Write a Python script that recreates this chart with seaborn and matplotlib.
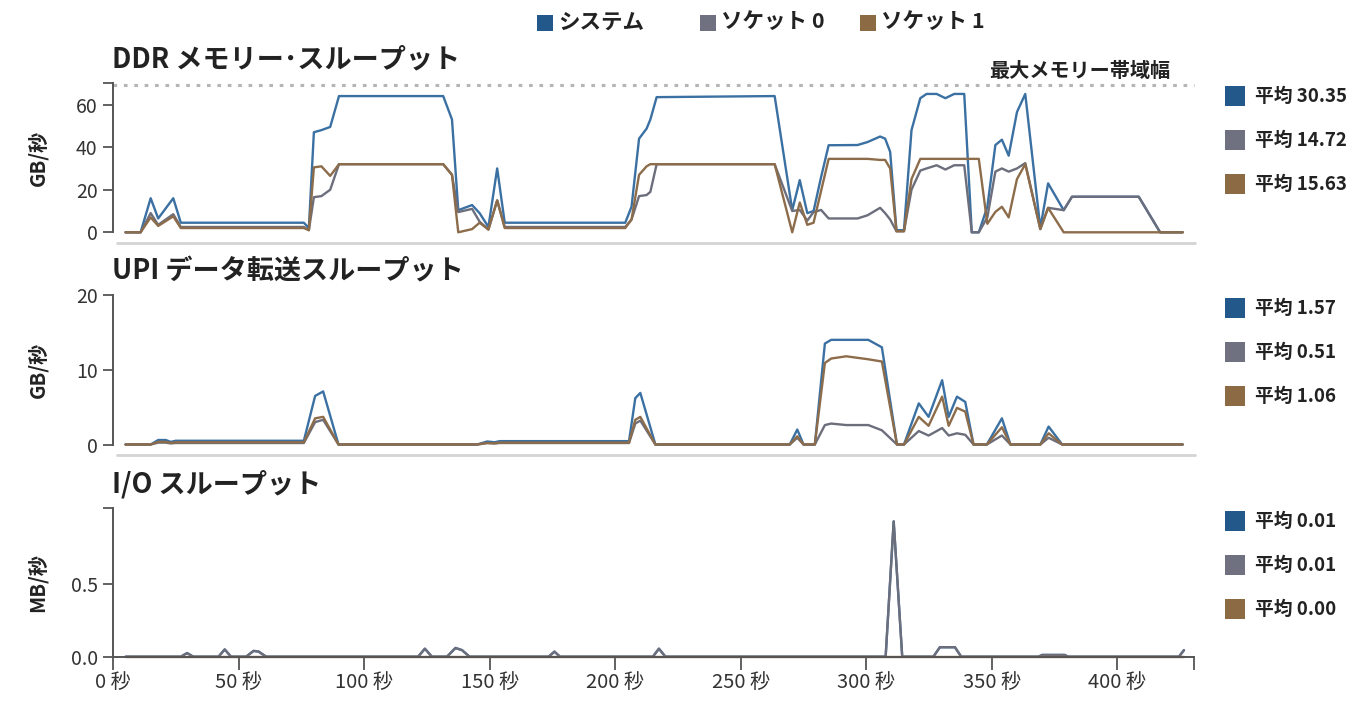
import matplotlib
matplotlib.use("Agg")
import matplotlib.pyplot as plt
from matplotlib.lines import Line2D
from matplotlib.patches import Rectangle
import pandas as pd
import seaborn as sns

# ---------------------------------------------------------------- data
series_names = ["システム", "ソケット 0", "ソケット 1"]

# DDR memory throughput (GB/s)
ddr_t = [5, 11, 15, 18, 24, 27, 76, 78, 80, 83, 86.5, 90, 131.5, 135, 137.5,
         143, 146, 149.5, 153, 156, 204, 206.5, 209.5, 212.5, 214, 216.5,
         263.5, 270.5, 273.5, 276.5, 279, 282, 285, 296.5, 300.5, 305.5,
         307.5, 309.5, 312, 315, 318, 321.5, 324, 328, 331.5, 335, 339, 342,
         344.8, 348.2, 351.4, 354, 356.7, 360, 363.3, 369.3, 372.4, 378.6,
         381.9, 408.5, 417, 426]
ddr_system = [0, 0, 16, 6.5, 16, 4.5, 4.5, 2, 47, 48, 49.5, 64, 64, 53, 10.4,
              12.8, 9, 2.5, 30, 4.5, 4.5, 12, 44, 48.7, 53, 63.5,
              64, 10.4, 24.5, 9, 10, 26, 40.9, 41, 42.4, 45,
              44, 37.8, 1, 1, 48, 63, 65, 65, 63, 65, 65, 0,
              0, 12, 41, 43.5, 36, 56.5, 65, 2, 23, 10.4,
              16.7, 16.7, 0, 0]
ddr_socket0 = [0, 0, 9, 3.5, 8.5, 2.5, 2.5, 1, 16.5, 17, 20, 32, 32, 27, 9.5,
               11, 5, 1.3, 15, 2.5, 2.5, 6, 17, 17.5, 19, 32,
               32, 10, 10.5, 5.5, 9.5, 10.5, 6.5, 6.5, 8, 11.5,
               9, 6, 0.5, 0.5, 20, 29, 30, 31.5, 29.5, 31.5, 31.5, 0,
               0, 7, 28.5, 30, 28.5, 30, 32.5, 1.5, 11.5, 10.4,
               16.7, 16.7, 0, 0]
ddr_socket1 = [0, 0, 7, 3, 7.5, 2, 2, 1, 30.5, 31, 26.5, 32, 32, 27, 0,
               1.5, 4.5, 1.3, 15, 2, 2, 6, 27, 31, 32, 32,
               32, 0, 14, 3.5, 4.5, 19.5, 34.5, 34.5, 34.5, 34,
               34, 30, 0.5, 0.5, 25, 34.5, 34.5, 34.5, 34.5, 34.5, 34.5, 34.5,
               34.5, 4, 9.6, 12, 7, 25, 32, 1.5, 11.5, 0,
               0, 0, 0, 0]
ddr_means = [30.35, 14.72, 15.63]
ddr_max_bandwidth = 69.3

# UPI data transfer throughput (GB/s)
upi_t = [5, 15, 18, 21, 23, 25, 76, 80.5, 83.7, 89.8, 145, 149, 152, 154,
         205.5, 208, 210, 216, 269.5, 272.5, 275, 279.5, 283.5, 286, 292,
         300.8, 306.2, 312.2, 315, 320.9, 324.8, 330.2, 332.8, 336.1, 339.4,
         342.7, 348, 354, 357.4, 369.3, 372.6, 378, 426]
upi_system = [0, 0, 0.6, 0.6, 0.35, 0.5, 0.5, 6.5, 7.1, 0, 0, 0.4, 0.3, 0.45,
              0.45, 6.2, 6.9, 0, 0, 2.0, 0, 0, 13.5, 14, 14,
              14, 13, 0, 0, 5.5, 3.7, 8.6, 3.7, 6.4, 5.7,
              0, 0, 3.5, 0, 0, 2.4, 0, 0]
upi_socket0 = [0, 0, 0.25, 0.25, 0.15, 0.2, 0.2, 3.0, 3.3, 0, 0, 0.2, 0.15, 0.2,
               0.2, 2.8, 3.2, 0, 0, 0.9, 0, 0, 2.6, 2.8, 2.6,
               2.6, 1.9, 0, 0, 1.8, 1.2, 2.2, 1.2, 1.5, 1.3,
               0, 0, 1.2, 0, 0, 0.9, 0, 0]
upi_socket1 = [0, 0, 0.35, 0.35, 0.2, 0.3, 0.3, 3.5, 3.7, 0, 0, 0.2, 0.15, 0.25,
               0.25, 3.3, 3.7, 0, 0, 1.1, 0, 0, 10.9, 11.5, 11.8,
               11.4, 11.1, 0, 0, 3.7, 2.5, 6.4, 2.5, 4.9, 4.4,
               0, 0, 2.3, 0, 0, 1.5, 0, 0]
upi_means = [1.57, 0.51, 1.06]

# I/O throughput (MB/s)
io_t = [5, 27, 29.5, 32, 42, 44.5, 47, 53, 56, 58, 61, 121.5, 124.2, 127,
        133, 136.4, 139, 142, 173.5, 175.8, 178, 215, 217.4, 220, 307.7,
        310.9, 314.3, 326.7, 329.3, 335.3, 337.8, 368.5, 370, 379, 380.4,
        424.5, 426.5]
io_system = [0, 0, 0.025, 0, 0, 0.05, 0, 0, 0.04, 0.035, 0, 0, 0.055, 0,
             0, 0.06, 0.045, 0, 0, 0.035, 0, 0, 0.055, 0, 0,
             0.93, 0, 0, 0.065, 0.065, 0, 0, 0.012, 0.012, 0,
             0, 0.045]
io_socket0 = [0, 0, 0.025, 0, 0, 0.05, 0, 0, 0.04, 0.035, 0, 0, 0.055, 0,
              0, 0.06, 0.045, 0, 0, 0.035, 0, 0, 0.055, 0, 0,
              0.93, 0, 0, 0.065, 0.065, 0, 0, 0.012, 0.012, 0,
              0, 0.045]
io_socket1 = [0] * len(io_t)
io_means = [0.01, 0.01, 0.00]

x_ticks = [0, 50, 100, 150, 200, 250, 300, 350, 400]
x_end = 430.5

# ---------------------------------------------------------------- style
sns.set_theme(style="white")
plt.rcParams["font.family"] = ["Noto Sans CJK JP", "DejaVu Sans"]

line_colors = {"システム": "#3b70a2", "ソケット 0": "#6c6e7c", "ソケット 1": "#8c6c4a"}
swatch_colors = ["#22598a", "#6f7080", "#8b6a44"]
axis_color = "#555555"
text_color = "#222222"

W, H = 1367, 702
fig = plt.figure(figsize=(W / 100, H / 100), dpi=100)


def fx(px):
    return px / W


def fy(py):
    return 1 - py / H


def long_frame(t, columns):
    parts = []
    for name, vals in zip(series_names, columns):
        parts.append(pd.DataFrame({"t": t, "value": vals, "series": name}))
    return pd.concat(parts, ignore_index=True)


def make_panel(top_px, bottom_px, t, columns, ymax, yticks, ylabels, unit, title, means):
    ax = fig.add_axes([fx(113), fy(bottom_px), fx(1194) - fx(113), fy(top_px) - fy(bottom_px)])
    df = long_frame(t, columns)
    sns.lineplot(data=df, x="t", y="value", hue="series", hue_order=series_names,
                 palette=line_colors, estimator=None, sort=False, linewidth=1.7,
                 legend=False, ax=ax, clip_on=False)
    ax.set_xlim(0, x_end)
    ax.set_ylim(0, ymax)
    for s in ["top", "right", "bottom"]:
        ax.spines[s].set_visible(False)
    ax.spines["left"].set_color(axis_color)
    ax.spines["left"].set_linewidth(1.4)
    ax.set_yticks(yticks + [ymax] if yticks[-1] < ymax else yticks)
    ax.set_yticklabels(ylabels + [""] if yticks[-1] < ymax else ylabels)
    ax.tick_params(axis="y", direction="out", length=7, width=1.3, color=axis_color,
                   labelsize=14, labelcolor="#333333", pad=4, left=True)
    ax.set_xlabel("")
    ax.set_ylabel(unit, fontsize=14.5, fontweight="bold", color=text_color)
    ax.yaxis.set_label_coords(-(113 - 48) / 1081, 0.5)
    ax.grid(False)
    ax.set_facecolor("none")
    fig.text(fx(112), fy(top_px - 24), title, fontsize=19.5, fontweight="bold",
             color=text_color, ha="left", va="center")
    # mean values beside the panel
    first = top_px + 13
    for i, (m, c) in enumerate(zip(means, swatch_colors)):
        cy = first + i * 44
        fig.add_artist(Rectangle((fx(1225), fy(cy + 10)), fx(20), fy(cy - 10) - fy(cy + 10),
                                 transform=fig.transFigure, facecolor=c, edgecolor="none"))
        fig.text(fx(1255), fy(cy), f"平均 {m:.2f}", fontsize=13.5, fontweight="bold",
                 color=text_color, ha="left", va="center")
    return ax


ax1 = make_panel(83.3, 232.3, ddr_t, [ddr_system, ddr_socket0, ddr_socket1],
                 70, [0, 20, 40, 60], ["0", "20", "40", "60"], "GB/秒",
                 "DDR メモリー･スループット", ddr_means)
ax1.set_xticks([])
ax1.axhline(ddr_max_bandwidth, color="#b5b5b5", linestyle=(0, (1.2, 2.2)),
            linewidth=2.2, clip_on=False, zorder=0)
ax1.text(1.0 - 24 / 1081, 1.0 + 13 / 149, "最大メモリー帯域幅", transform=ax1.transAxes,
         fontsize=14.5, fontweight="bold", color=text_color, ha="right", va="center")

ax2 = make_panel(295, 444.5, upi_t, [upi_system, upi_socket0, upi_socket1],
                 20, [0, 10, 20], ["0", "10", "20"], "GB/秒",
                 "UPI データ転送スループット", upi_means)
ax2.set_xticks([])

ax3 = make_panel(508.3, 656.7, io_t, [io_system, io_socket0, io_socket1],
                 1.02, [0, 0.5], ["0.0", "0.5"], "MB/秒",
                 "I/O スループット", io_means)
ax3.spines["bottom"].set_visible(True)
ax3.spines["bottom"].set_color(axis_color)
ax3.spines["bottom"].set_linewidth(1.4)
ax3.set_xticks(x_ticks + [x_end])
ax3.set_xticklabels([f"{v} 秒" for v in x_ticks] + [""])
ax3.tick_params(axis="x", direction="out", length=9, width=1.3, color=axis_color,
                labelsize=14.5, labelcolor="#333333", pad=2, bottom=True)

# light separators under the upper two panels
for ypx in (243, 455):
    fig.add_artist(Line2D([fx(117), fx(1195)], [fy(ypx), fy(ypx)], transform=fig.transFigure,
                          color="#d4d4d4", linewidth=2))

# series legend at the top
for (xpx, name, c) in zip((537, 700, 860), series_names, swatch_colors):
    fig.add_artist(Rectangle((fx(xpx), fy(31)), fx(16), fy(15) - fy(31),
                             transform=fig.transFigure, facecolor=c, edgecolor="none"))
    fig.text(fx(xpx + 21), fy(22), name, fontsize=15.5, fontweight="bold",
             color=text_color, ha="left", va="center")

fig.savefig("out.png", dpi=100, facecolor="white")
